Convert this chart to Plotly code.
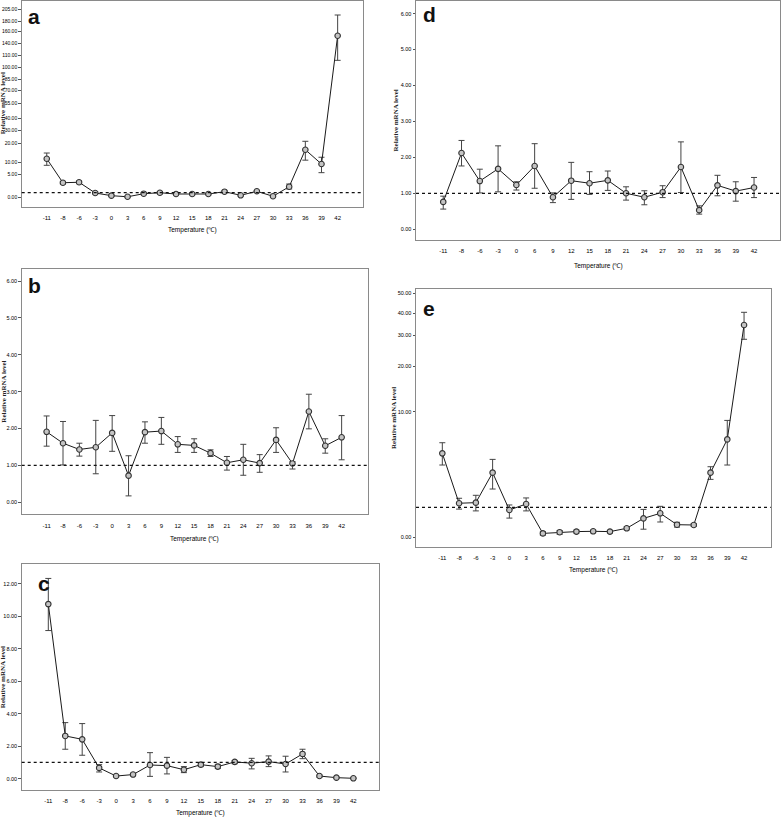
import numpy as np
import plotly.graph_objects as go

# ---------------- data ----------------
temps19 = ["-11", "-8", "-6", "-3", "0", "3", "6", "9", "12", "15", "18",
           "21", "24", "27", "30", "33", "36", "39", "42"]
temps_d = ["-11", "-8", "-6", "-3", "0", "6", "9", "12", "15", "18",
           "21", "24", "27", "30", "33", "36", "39", "42"]

# panel a
a_mean = [11.8, 3.2, 3.3, 0.9, 0.3, 0.05, 0.74, 0.96, 0.67, 0.67, 0.67,
          1.19, 0.38, 1.28, 0.16, 2.3, 16.7, 9.2, 152.9]
a_upper = [14.9, 3.5, 3.6, 1.1, 0.45, 0.15, 0.95, 1.25, 0.85, 0.85, 0.85,
           1.4, 0.55, 1.45, 0.3, 2.9, 21.8, 12.6, 192.8]
a_lower = [8.7, 2.9, 3.0, 0.7, 0.15, 0.0, 0.55, 0.7, 0.5, 0.5, 0.5,
           1.0, 0.2, 1.1, 0.05, 1.8, 11.0, 5.8, 105.8]
a_tick_vals = [0, 5, 10, 20, 30, 40, 55, 70, 85, 100, 110, 140, 160, 180, 205]
a_tick_text = ["0.00", "5.00", "10.00", "20.00", "30.00", "40.00", "55.00",
               "70.00", "85.00", "100.00", "110.00", "140.00", "160.00",
               "180.00", "205.00"]
# axis scale of panel a (non-uniform): relative spacing of each tick
a_scale_pos = [0, 22.3, 35, 53.3, 66.7, 78.7, 93.7, 106.3, 118, 129.3, 142,
               154, 165.3, 176, 187.7]

# panel b
b_mean = [1.91, 1.60, 1.43, 1.49, 1.88, 0.72, 1.90, 1.93, 1.57, 1.54, 1.33,
          1.07, 1.15, 1.06, 1.69, 1.05, 2.46, 1.53, 1.76]
b_upper = [2.34, 2.19, 1.60, 2.22, 2.35, 1.26, 2.18, 2.30, 1.78, 1.72, 1.42,
           1.24, 1.57, 1.29, 2.02, 1.10, 2.93, 1.72, 2.35]
b_lower = [1.52, 1.01, 1.25, 0.77, 1.38, 0.17, 1.60, 1.57, 1.35, 1.35, 1.24,
           0.87, 0.73, 0.81, 1.35, 0.90, 1.99, 1.33, 1.15]

# panel c
c_mean = [10.75, 2.63, 2.42, 0.66, 0.16, 0.25, 0.84, 0.80, 0.55, 0.86, 0.74,
          1.03, 0.95, 1.05, 0.90, 1.52, 0.16, 0.06, 0.02]
c_upper = [12.33, 3.45, 3.39, 0.86, 0.22, 0.33, 1.60, 1.31, 0.74, 0.99, 0.88,
           1.11, 1.25, 1.40, 1.38, 1.81, 0.22, 0.09, 0.04]
c_lower = [9.12, 1.81, 1.44, 0.41, 0.10, 0.17, 0.14, 0.29, 0.37, 0.74, 0.62,
           0.92, 0.60, 0.74, 0.41, 1.23, 0.09, 0.03, 0.0]

# panel d
d_mean = [0.76, 2.12, 1.34, 1.68, 1.23, 1.76, 0.89, 1.35, 1.28, 1.36, 1.00,
          0.89, 1.03, 1.73, 0.53, 1.22, 1.06, 1.16]
d_upper = [0.92, 2.47, 1.67, 2.32, 1.32, 2.38, 1.01, 1.86, 1.60, 1.62, 1.18,
           1.07, 1.21, 2.43, 0.65, 1.50, 1.32, 1.44]
d_lower = [0.56, 1.76, 1.01, 1.04, 1.09, 1.14, 0.74, 0.83, 0.97, 1.08, 0.81,
           0.68, 0.88, 1.02, 0.42, 0.93, 0.78, 0.88]

# panel e
e_mean = [6.08, 1.38, 1.44, 4.26, 0.91, 1.31, 0.13, 0.17, 0.19, 0.20, 0.19,
          0.30, 0.63, 0.80, 0.42, 0.41, 4.26, 7.39, 34.7]
e_upper = [7.08, 1.85, 2.13, 5.51, 1.22, 1.88, 0.19, 0.22, 0.24, 0.24, 0.23,
           0.35, 0.93, 1.09, 0.50, 0.46, 4.82, 9.18, 40.5]
e_lower = [4.98, 0.94, 0.88, 2.72, 0.64, 0.88, 0.07, 0.10, 0.14, 0.15, 0.14,
           0.25, 0.27, 0.51, 0.34, 0.36, 3.63, 4.98, 28.7]
e_tick_vals = [0, 10, 20, 30, 40, 50]
e_tick_text = ["0.00", "10.00", "20.00", "30.00", "40.00", "50.00"]
# axis scale of panel e (non-uniform), knots incl. the reference level 1
e_scale_vals = [0, 1, 10, 20, 30, 40, 50]
e_scale_pos = [0, 30, 125.6, 171.3, 202, 224, 244]

ref_level = 1.0

# ---------------- helpers ----------------
W, H = 782, 820


def px(x):
    return x / W


def py(y):
    return 1 - y / H


def warp_a(v):
    return np.interp(np.asarray(v, float), a_tick_vals, a_scale_pos)


def warp_e(v):
    return np.interp(np.asarray(v, float), e_scale_vals, e_scale_pos)


def ident(v):
    return np.asarray(v, float)


FAM = "Liberation Sans Narrow, Arial Narrow, Liberation Sans, sans-serif"
XTICKFONT = dict(family=FAM, size=6, color="#000")
XTITLEFONT = dict(family=FAM, size=6.5, color="#000")
YTITLEFONT = dict(family="Liberation Serif, DejaVu Serif, serif", size=7, color="#222")
LETTERFONT = dict(family="Liberation Sans, Arial, sans-serif", size=21, color="#111")

fig = go.Figure()

panels = [
    dict(cats=temps19, m=a_mean, u=a_upper, l=a_lower, warp=warp_a,
         box=(21.7, 1, 362.7, 206.7), xr=(-1.55, 19.55), yr=(-9.7, 196),
         tv=a_tick_vals, tt=a_tick_text, letter="a", lpos=(26, 16),
         xtitle_y=230, ytx=2.5, yfs=5),
    dict(cats=temps19, m=b_mean, u=b_upper, l=b_lower, warp=ident,
         box=(21.7, 269, 367.7, 514.3), xr=(-1.52, 19.59), yr=(-0.33, 6.33),
         tv=[0, 1, 2, 3, 4, 5, 6], tt=["0.00", "1.00", "2.00", "3.00", "4.00", "5.00", "6.00"],
         letter="b", lpos=(26, 285), xtitle_y=539, ytx=4, yfs=5.5),
    dict(cats=temps19, m=c_mean, u=c_upper, l=c_lower, warp=ident,
         box=(21.7, 564.3, 379.3, 790), xr=(-1.57, 19.53), yr=(-0.7, 13.2),
         tv=[0, 2, 4, 6, 8, 10, 12], tt=["0.00", "2.00", "4.00", "6.00", "8.00", "10.00", "12.00"],
         letter="c", lpos=(36, 583), xtitle_y=813, ytx=3, yfs=5.5),
    dict(cats=temps_d, m=d_mean, u=d_upper, l=d_lower, warp=ident,
         box=(416, 1, 780, 240), xr=(-1.49, 18.42), yr=(-0.3, 6.35),
         tv=[0, 1, 2, 3, 4, 5, 6], tt=["0.00", "1.00", "2.00", "3.00", "4.00", "5.00", "6.00"],
         letter="d", lpos=(421, 14), xtitle_y=266, ytx=395, yfs=5.5),
    dict(cats=temps19, m=e_mean, u=e_upper, l=e_lower, warp=warp_e,
         box=(416, 289.3, 770.7, 546.7), xr=(-1.57, 19.59), yr=(-9.4, 248),
         tv=e_tick_vals, tt=e_tick_text, letter="e", lpos=(421, 308),
         xtitle_y=570, ytx=394, yfs=5.5),
]

layout_axes = {}
annotations = []
shapes = []

for i, p in enumerate(panels, start=1):
    sfx = "" if i == 1 else str(i)
    xa, ya = "x" + sfx, "y" + sfx
    w = p["warp"]
    ym = w(p["m"])
    yu = w(p["u"]) - ym
    yl = ym - w(p["l"])
    fig.add_trace(go.Scatter(
        x=p["cats"], y=ym, xaxis=xa, yaxis=ya, mode="lines+markers",
        line=dict(color="#1a1a1a", width=1),
        marker=dict(symbol="circle", size=5.5, color="#c4c4c4",
                    line=dict(color="#333", width=1.1)),
        error_y=dict(type="data", symmetric=False, array=yu, arrayminus=yl,
                     color="#444", thickness=1, width=3),
        showlegend=False, hoverinfo="skip"))
    l, t, r, b = p["box"]
    layout_axes["xaxis" + sfx] = dict(
        domain=[px(l), px(r)], anchor=ya, type="category",
        categoryorder="array", categoryarray=p["cats"],
        range=list(p["xr"]), showgrid=False, zeroline=False,
        showline=True, mirror=True, linecolor="#8a8a8a", linewidth=1,
        ticks="", tickfont=XTICKFONT, ticklabelstandoff=5, fixedrange=True,
        automargin=False)
    layout_axes["yaxis" + sfx] = dict(
        domain=[py(b), py(t)], anchor=xa, range=list(p["yr"]),
        tickvals=list(w(p["tv"])), ticktext=p["tt"], showgrid=False,
        zeroline=False, showline=True, mirror=True, linecolor="#8a8a8a",
        linewidth=1, ticks="outside", ticklen=2.5, tickcolor="#555",
        tickfont=dict(family=FAM, size=p["yfs"], color="#000"),
        ticklabelstandoff=0, fixedrange=True, automargin=False)
    ref_y = float(w(ref_level))
    shapes.append(dict(type="line", xref=xa + " domain", yref=ya,
                       x0=0, x1=1, y0=ref_y, y1=ref_y,
                       line=dict(color="#111", width=1.2, dash="dot")))
    annotations.append(dict(text="Temperature (\u2103)", xref="paper", yref="paper",
                            x=px((l + r) / 2), y=py(p["xtitle_y"]),
                            showarrow=False, font=XTITLEFONT,
                            xanchor="center", yanchor="middle"))
    annotations.append(dict(text="<b>Relative mRNA level</b>", xref="paper", yref="paper",
                            x=px(p["ytx"]), y=py((t + b) / 2), textangle=-90,
                            showarrow=False, font=YTITLEFONT,
                            xanchor="center", yanchor="middle"))
    annotations.append(dict(text="<b>%s</b>" % p["letter"], xref="paper", yref="paper",
                            x=px(p["lpos"][0]), y=py(p["lpos"][1]),
                            showarrow=False, font=LETTERFONT,
                            xanchor="left", yanchor="middle"))

fig.update_layout(
    template="none",
    width=W, height=H, margin=dict(l=0, r=0, t=0, b=0, autoexpand=False),
    paper_bgcolor="white", plot_bgcolor="white",
    annotations=annotations, shapes=shapes, **layout_axes)

fig.write_html("out.html", config={"displayModeBar": False},
               post_script="document.body.style.margin='0';document.body.style.padding='0';")
